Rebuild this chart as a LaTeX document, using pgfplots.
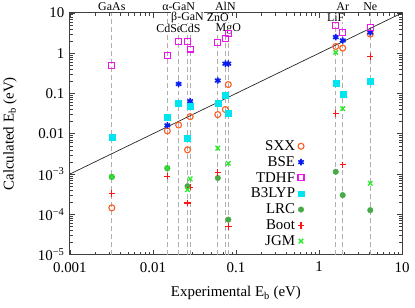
\documentclass[border=0pt]{standalone}
\usepackage{fontspec}
\setmainfont{Liberation Serif}
\usepackage{pgfplots}
\pgfplotsset{compat=1.18}
\definecolor{cSXX}{RGB}{255,90,30}
\definecolor{cBSE}{RGB}{10,30,240}
\definecolor{cTDHF}{RGB}{235,20,235}
\definecolor{cB3}{RGB}{0,230,240}
\definecolor{cLRC}{RGB}{70,170,70}
\definecolor{cBoot}{RGB}{255,20,20}
\definecolor{cJGM}{RGB}{40,235,40}
\definecolor{cdash}{RGB}{175,175,175}
\begin{document}
\begin{tikzpicture}
\begin{axis}[
  scale only axis, width=334pt, height=243pt,
  xmode=log, ymode=log,
  xmin=0.001, xmax=10, ymin=1e-5, ymax=10,
  clip=false,
  axis line style={line width=0.9pt, black!75},
  every tick/.style={black!75, line width=0.6pt},
  major tick length=5pt, minor tick length=3pt,
  xtick={0.001,0.01,0.1,1,10},
  xticklabels={0.001,0.01,0.1,1,10},
  ytick={1e-5,1e-4,1e-3,0.01,0.1,1,10},
  yticklabels={10\textsuperscript{−5},10\textsuperscript{−4},10\textsuperscript{−3},0.01,0.1,1,10},
  tick label style={font=\fontsize{15}{18}\selectfont},
  xticklabel style={yshift=-4pt},
  yticklabel style={xshift=-2pt},
  xlabel={Experimental E\textsubscript{b} (eV)},
  ylabel={Calculated E\textsubscript{b} (eV)},
  label style={font=\fontsize{15}{18}\selectfont},
  xlabel style={at={(axis description cs:0.5,-0.16)}, anchor=center},
  ylabel style={at={(axis description cs:-0.18,0.5)}, anchor=center},
  legend cell align=right,
  legend plot pos=right,
  legend style={draw=none, fill=none, at={(axis description cs:0.715,0.02)}, anchor=south east,
    font=\fontsize{15}{17}\selectfont, nodes={inner sep=0.8pt}, row sep=2.9pt,
    /tikz/every odd column/.append style={column sep=2pt}},
]
% vertical dashed guides
\pgfplotsinvokeforeach{0.0032,0.0149,0.0204,0.0261,0.0281,0.0604,0.0745,0.0809,1.59,1.93,4.14}{
  \addplot[cdash, line width=1.1pt, dash pattern=on 5pt off 3pt, forget plot] coordinates {(#1,1e-5) (#1,10)};
}
\addplot[black!85, line width=0.7pt, forget plot] coordinates {(0.001,0.001) (10,10)};

\addplot[only marks, mark=o, mark size=3pt, cSXX, line width=1.1pt] coordinates {
(0.0032,1.45e-4) (0.0149,0.0118) (0.0204,0.0165) (0.0261,0.0040) (0.0281,0.0266)
(0.0604,0.030) (0.0745,0.040) (0.0809,0.167) (1.59,1.47) (1.93,1.34) (4.14,2.98)};
\addlegendentry{SXX}
\addplot[only marks, mark=asterisk, mark size=3.2pt, cBSE, line width=1.6pt] coordinates {
(0.0149,0.0162) (0.0204,0.172) (0.0281,0.0646) (0.0604,0.21) (0.0745,0.55) (0.0809,0.55)
(1.59,2.51) (1.93,2.07) (4.14,3.27)};
\addlegendentry{BSE}
\addplot[only marks, mark=square, mark size=3pt, cTDHF, line width=1.1pt] coordinates {
(0.0032,0.49) (0.0149,0.87) (0.0204,1.95) (0.0261,1.95) (0.0281,1.27) (0.0604,1.85)
(0.0745,2.37) (0.0809,3.16) (1.59,4.78) (1.93,3.27) (4.14,4.33)};
\addlegendentry{TDHF}
\addplot[only marks, mark=square*, mark size=3pt, cB3, mark options={draw=cB3, fill=cB3}] coordinates {
(0.0032,0.0081) (0.0149,0.026) (0.0204,0.056) (0.0261,0.0076) (0.0281,0.0487) (0.0604,0.056)
(0.0745,0.089) (0.0809,0.032) (1.59,0.184) (1.93,0.098) (4.14,0.198)};
\addlegendentry{B3LYP}
\addplot[only marks, mark=*, mark size=2.8pt, cLRC, mark options={draw=cLRC, fill=cLRC}] coordinates {
(0.0032,8.5e-4) (0.0149,1.4e-3) (0.0261,5.0e-4) (0.0604,8.0e-4) (0.0809,7.4e-5)
(1.59,1.14e-3) (1.93,3.0e-4) (4.14,1.27e-4)};
\addlegendentry{LRC}
\addplot[only marks, mark=+, mark size=3.2pt, color=cBoot, line width=1.3pt, mark options={draw=cBoot, solid}] coordinates {
(0.0032,3.3e-4) (0.0149,8.8e-4) (0.0261,1.9e-4) (0.0281,4.7e-4) (0.0604,1.1e-3) (0.0809,5.0e-5)
(1.59,0.032) (1.93,1.7e-3) (4.14,0.83)};
\addlegendentry{Boot}
\addplot[only marks, mark=x, mark size=3.2pt, color=cJGM, line width=1.3pt, mark options={draw=cJGM, solid}] coordinates {
(0.0032,8.5e-4) (0.0149,1.4e-3) (0.0261,4.1e-4) (0.0281,7.6e-4) (0.0604,0.0044) (0.0809,1.84e-3)
(1.59,1.05) (1.93,0.042) (4.14,5.9e-4)};
\addlegendentry{JGM}

% material labels
\begin{scope}[every node/.style={font=\fontsize{12}{14}\selectfont, inner sep=0pt, anchor=center}]
\node at (axis cs:0.0032,10) [yshift=6.5pt] {GaAs};
\node at (axis cs:0.0204,10) [yshift=6.5pt] {α-GaN};
\node at (axis cs:0.0745,10) [yshift=6.5pt] {AlN};
\node at (axis cs:1.93,10) [yshift=6.5pt] {Ar};
\node at (axis cs:4.14,10) [yshift=6.5pt] {Ne};
\node[fill=white] at (axis cs:0.0261,10) [yshift=-5pt] {β-GaN};
\node[fill=white] at (axis cs:0.0604,10) [yshift=-5pt] {ZnO};
\node[fill=white] at (axis cs:1.59,10) [yshift=-5pt] {LiF};
\node[fill=white] at (axis cs:0.0149,10) [yshift=-15.5pt, xshift=2pt] {CdSe};
\node[fill=white] at (axis cs:0.0281,10) [yshift=-15.5pt] {CdS};
\node[fill=white] at (axis cs:0.0809,10) [yshift=-15.5pt] {MgO};
\end{scope}
\end{axis}
\path (-68pt,-53pt) rectangle (347pt,256pt);
\end{tikzpicture}
\end{document}
